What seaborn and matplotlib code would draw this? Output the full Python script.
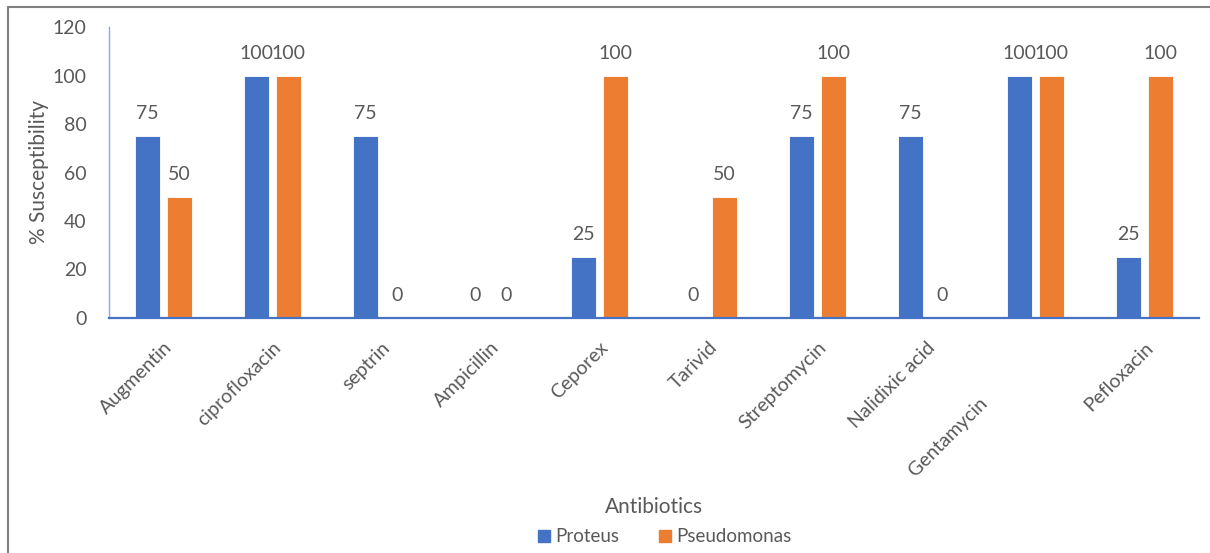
import matplotlib
matplotlib.use("Agg")
import matplotlib.pyplot as plt
from matplotlib.lines import Line2D
import pandas as pd
import seaborn as sns

antibiotics = ["Augmentin", "ciprofloxacin", "septrin", "Ampicillin", "Ceporex",
               "Tarivid", "Streptomycin", "Nalidixic acid", "Gentamycin", "Pefloxacin"]
proteus = [75, 100, 75, 0, 25, 0, 75, 75, 100, 25]
pseudomonas = [50, 100, 0, 0, 100, 50, 100, 0, 100, 100]
series_names = ["Proteus", "Pseudomonas"]
y_ticks = [0, 20, 40, 60, 80, 100, 120]

df = pd.DataFrame({
    "Antibiotic": antibiotics * 2,
    "Organism": [series_names[0]] * len(antibiotics) + [series_names[1]] * len(antibiotics),
    "Susceptibility": proteus + pseudomonas,
})

sns.set_theme(style="white")
plt.rcParams["font.family"] = ["Lato", "DejaVu Sans"]
text_color = "#595959"

fig = plt.figure(figsize=(12.1, 5.53), dpi=100)
ax = fig.add_axes([109 / 1210, 1 - 318 / 553, (1199 - 109) / 1210, (318 - 27) / 553])

sns.barplot(data=df, x="Antibiotic", y="Susceptibility", hue="Organism",
            palette=["#4472C4", "#ED7D31"], saturation=1, width=0.58, gap=0.2,
            edgecolor="white", linewidth=0.6, ax=ax, legend=False)

for cont in ax.containers:
    ax.bar_label(cont, fmt="%g", padding=10, fontsize=14, color=text_color)

ax.set_ylim(0, 120)
ax.set_xlim(-0.5, len(antibiotics) - 0.5)
ax.set_yticks(y_ticks)
ax.set_yticklabels([str(v) for v in y_ticks], fontsize=14, color=text_color)

tick_texts = [a if a != "Gentamycin" else a + " " * 16 for a in antibiotics]
ax.set_xticks(range(len(antibiotics)))
ax.set_xticklabels(tick_texts, rotation=45, ha="right", va="top",
                   rotation_mode="anchor", fontsize=14, color=text_color)
ax.tick_params(axis="both", length=0)
ax.tick_params(axis="y", pad=16)
ax.tick_params(axis="x", pad=15)

ax.set_ylabel("% Susceptibility", fontsize=15, color=text_color, labelpad=3)
ax.set_xlabel("")
fig.text(0.5405, 1 - 507 / 553, "Antibiotics", ha="center", va="center",
         fontsize=15, color=text_color)

for side in ["top", "right"]:
    ax.spines[side].set_visible(False)
ax.spines["left"].set_color("#8EA9DB")
ax.spines["left"].set_linewidth(1.0)
ax.spines["bottom"].set_color("#4472C4")
ax.spines["bottom"].set_linewidth(1.6)

handles = [Line2D([], [], marker="s", linestyle="none", markersize=9,
                  markerfacecolor=c, markeredgecolor=c)
           for c in ["#4472C4", "#ED7D31"]]
fig.legend(handles, series_names, loc="center", bbox_to_anchor=(0.548, 1 - 537 / 553),
           ncol=2, frameon=False, fontsize=13.5, labelcolor=text_color,
           handletextpad=0.1, columnspacing=1.9, handlelength=1.0)

# chart frame along the top and left edges
fig.add_artist(Line2D([8 / 1210, 8 / 1210], [0, 1 - 7 / 553], transform=fig.transFigure,
                      color="#7F7F7F", linewidth=1.5))
fig.add_artist(Line2D([8 / 1210, 1], [1 - 7 / 553, 1 - 7 / 553], transform=fig.transFigure,
                      color="#7F7F7F", linewidth=1.5))

fig.savefig("out.png", dpi=100, facecolor="white")
